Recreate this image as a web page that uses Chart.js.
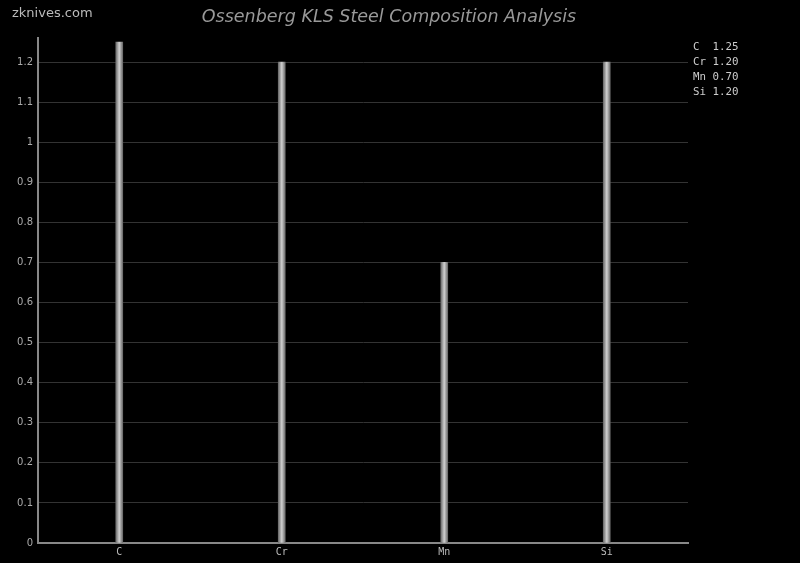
<!DOCTYPE html>
<html>
<head>
<meta charset="utf-8">
<script src="https://cdn.jsdelivr.net/npm/chart.js@4.4.1/dist/chart.umd.min.js"></script>
<style>
  html, body { margin: 0; padding: 0; background: #000; }
  #wrap { width: 800px; height: 563px; }
</style>
</head>
<body>
<div id="wrap"><canvas id="chart" width="800" height="563"></canvas></div>
<script>
const elements = ['C', 'Cr', 'Mn', 'Si'];
const percents = [1.25, 1.20, 0.70, 1.20];
const yTicks = [0, 0.1, 0.2, 0.3, 0.4, 0.5, 0.6, 0.7, 0.8, 0.9, 1, 1.1, 1.2];
const chartTitle = 'Ossenberg KLS Steel Composition Analysis';
const watermark = 'zknives.com';

// gradient for each bar, light in the middle
function barFill(ctx) {
  const chart = ctx.chart;
  const xs = chart.scales.x;
  if (!xs) return '#aaa';
  const cx = xs.getPixelForValue(ctx.dataIndex);
  if (!isFinite(cx)) return '#aaa';
  const g = chart.ctx.createLinearGradient(cx - 3.5, 0, cx + 3.5, 0);
  g.addColorStop(0, '#6a6a6a');
  g.addColorStop(0.5, '#d0d0d0');
  g.addColorStop(1, '#6a6a6a');
  return g;
}

const extras = {
  id: 'extras',
  afterDraw(chart) {
    const c = chart.ctx;
    c.save();
    c.fillStyle = '#bbb';
    c.font = '13px "DejaVu Sans"';
    c.textBaseline = 'middle';
    c.textAlign = 'left';
    c.fillText(watermark, 12, 14);

    c.fillStyle = '#999';
    c.font = 'italic 17.5px "DejaVu Sans"';
    c.textAlign = 'center';
    c.fillText(chartTitle, 389, 17);

    c.fillStyle = '#ccc';
    c.font = '10.8px "DejaVu Sans Mono"';
    c.textAlign = 'left';
    elements.forEach((el, i) => {
      const name = (el + '  ').slice(0, 2);
      c.fillText(name + ' ' + percents[i].toFixed(2), 693, 47 + i * 15);
    });
    c.restore();
  }
};

new Chart(document.getElementById('chart'), {
  type: 'bar',
  data: {
    labels: elements,
    datasets: [{
      data: percents,
      backgroundColor: barFill,
      borderWidth: 0,
      barThickness: 7
    }]
  },
  options: {
    responsive: false,
    animation: false,
    layout: { padding: { left: 0, right: 112, top: 38, bottom: 2 } },
    plugins: {
      legend: { display: false },
      title: { display: false },
      tooltip: { enabled: false }
    },
    scales: {
      x: {
        grid: { display: false, drawTicks: false },
        border: { color: '#888', width: 2 },
        ticks: { color: '#bbb', font: { family: 'DejaVu Sans Mono', size: 10 }, padding: 3 }
      },
      y: {
        min: 0,
        max: 1.26,
        afterBuildTicks: (s) => { s.ticks = yTicks.map(v => ({ value: v })); },
        afterFit: (s) => { s.width = 38; },
        grid: { color: '#333', drawTicks: false },
        border: { color: '#888', width: 2 },
        ticks: { color: '#aaa', font: { family: 'DejaVu Sans', size: 10 }, padding: 5,
          callback: (v) => String(Math.round(v * 10) / 10) }
      }
    }
  },
  plugins: [extras]
});
</script>
</body>
</html>
